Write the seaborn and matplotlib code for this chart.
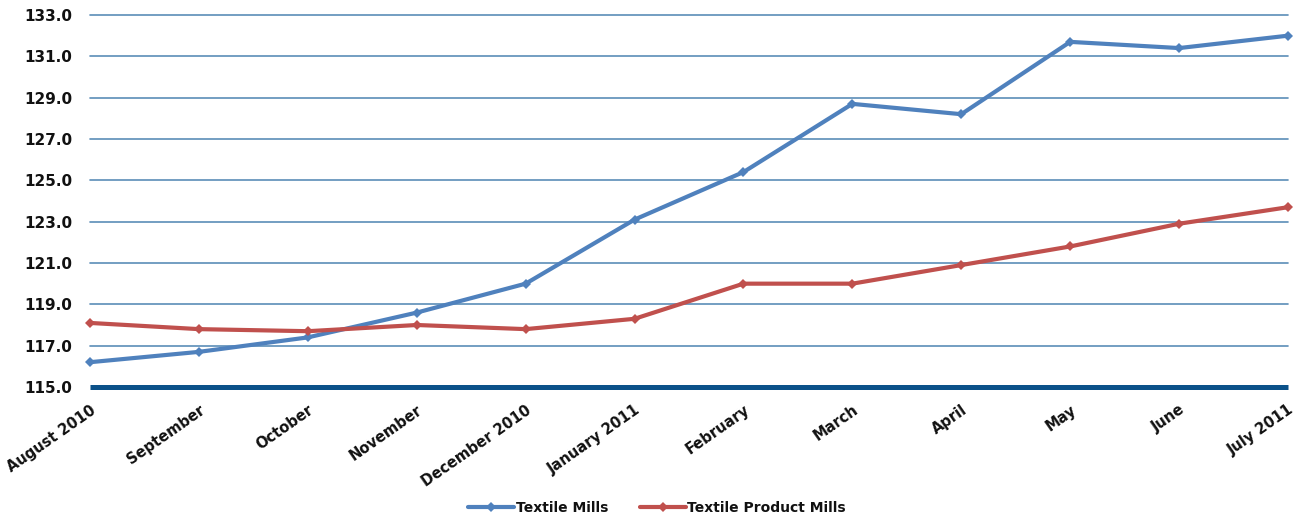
import matplotlib
matplotlib.use("Agg")
import matplotlib.pyplot as plt
import pandas as pd
import seaborn as sns

months = ["August 2010", "September", "October", "November", "December 2010",
          "January 2011", "February", "March", "April", "May", "June", "July 2011"]
textile_mills = [116.2, 116.7, 117.4, 118.6, 120.0, 123.1, 125.4, 128.7, 128.2, 131.7, 131.4, 132.0]
textile_product_mills = [118.1, 117.8, 117.7, 118.0, 117.8, 118.3, 120.0, 120.0, 120.9, 121.8, 122.9, 123.7]
series_names = ["Textile Mills", "Textile Product Mills"]
y_ticks = [115, 117, 119, 121, 123, 125, 127, 129, 131, 133]

df = pd.DataFrame({
    "pos": list(range(len(months))) * 2,
    "value": textile_mills + textile_product_mills,
    "series": [series_names[0]] * len(months) + [series_names[1]] * len(months),
})

sns.set_theme(style="white")
plt.rcParams["font.family"] = ["DejaVu Sans"]
plt.rcParams["text.color"] = "#111111"

fig = plt.figure(figsize=(13.01, 5.14), dpi=100)
ax = fig.add_axes([90 / 1301, 1 - 387 / 514, 1198 / 1301, 372 / 514])

palette = {series_names[0]: "#4F81BD", series_names[1]: "#C0504D"}
sns.lineplot(data=df, x="pos", y="value", hue="series", palette=palette,
             marker="D", markersize=5, markeredgewidth=0, linewidth=3.0,
             ax=ax, legend=False, zorder=3, clip_on=False)

ax.set_xlim(0, len(months) - 1)
ax.set_ylim(115, 133)
ax.set_yticks(y_ticks)
ax.set_yticklabels([f"{v:.1f}" for v in y_ticks], fontsize=11, fontweight="bold",
                   color="#111111")
ax.set_xticks(range(len(months)))
ax.set_xticklabels(months, rotation=35, ha="right", va="top", rotation_mode="anchor",
                   fontsize=10.5, fontweight="bold", color="#111111")
ax.tick_params(axis="x", length=0, pad=11)
ax.tick_params(axis="y", length=0, pad=13)
ax.set_xlabel("")
ax.set_ylabel("")

# horizontal gridlines at each tick above the baseline
for v in y_ticks[1:]:
    ax.axhline(v, color="#5B8DB8", linewidth=1.2, zorder=1, clip_on=False)

for s in ["top", "right", "left"]:
    ax.spines[s].set_visible(False)
ax.spines["bottom"].set_color("#0B5189")
ax.spines["bottom"].set_linewidth(3.6)
ax.spines["bottom"].set_zorder(2)
ax.spines["bottom"].set_capstyle("butt")

handles = [plt.Line2D([0], [0], color=palette[n], linewidth=3.0, marker="D",
                      markersize=5, markeredgewidth=0) for n in series_names]
fig.legend(handles, series_names, loc="center", ncol=2, frameon=False,
           bbox_to_anchor=(657 / 1301, 1 - 508 / 514),
           prop={"size": 10, "weight": "bold"},
           handlelength=3.3, columnspacing=2.3, handletextpad=0.1,
           borderpad=0, borderaxespad=0)

fig.savefig("out.png", dpi=100)
